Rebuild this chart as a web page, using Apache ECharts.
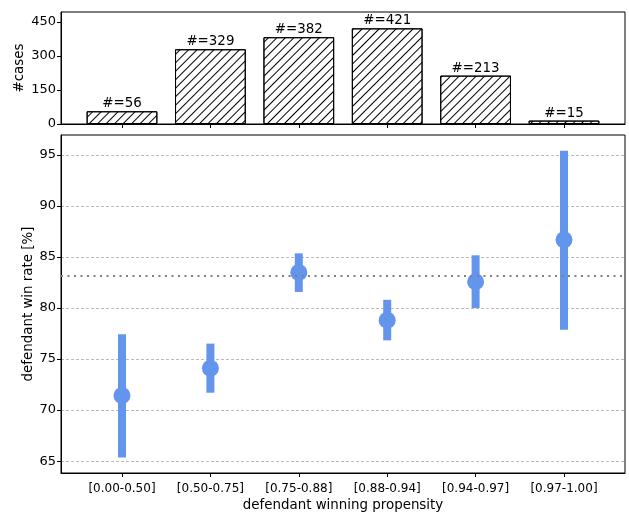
<!DOCTYPE html>
<html>
<head>
<meta charset="utf-8">
<script src="https://cdn.jsdelivr.net/npm/echarts@6/dist/echarts.min.js"></script>
<style>html,body{margin:0;padding:0;background:#fff}#c{width:629px;height:517px}</style>
</head>
<body>
<div id="c"></div>
<script>
// ---- data ----
const categories = ['[0.00-0.50]', '[0.50-0.75]', '[0.75-0.88]', '[0.88-0.94]', '[0.94-0.97]', '[0.97-1.00]'];
const caseCounts = [56, 329, 382, 421, 213, 15];
const winRate = [71.42, 74.09, 83.48, 78.80, 82.58, 86.67];
const ciLow = [65.36, 71.70, 81.57, 76.83, 80.00, 77.87];
const ciHigh = [77.42, 76.51, 85.35, 80.80, 85.16, 95.39];
const overallRate = 83.2;
const countTicks = [0, 150, 300, 450];
const rateTicks = [65, 70, 75, 80, 85, 90, 95];

const idx = categories.map((_, i) => i);
const FONT = 'DejaVu Sans';
const chart = echarts.init(document.getElementById('c'), null, {renderer: 'canvas'});

const xBase = {
  type: 'value', min: -0.69, max: 5.69,
  axisLine: {show: true, onZero: false, lineStyle: {color: '#000', width: 1}},
  axisTick: {show: true, customValues: idx, length: 4, lineStyle: {color: '#000'}},
  splitLine: {show: false}
};

const option = {
  animation: false,
  textStyle: {fontFamily: FONT},
  grid: [
    {left: 61, right: 4, top: 12, height: 112, show: true, borderColor: '#000', borderWidth: 1, backgroundColor: 'transparent'},
    {left: 61, right: 4, top: 135, height: 342, show: true, borderColor: '#000', borderWidth: 1, backgroundColor: 'transparent'}
  ],
  xAxis: [
    Object.assign({}, xBase, {gridIndex: 0, axisLabel: {show: false}}),
    Object.assign({}, xBase, {
      gridIndex: 1,
      axisLabel: {show: true, customValues: idx, formatter: v => categories[Math.round(v)], fontSize: 12, color: '#000', fontFamily: FONT, margin: 10},
      name: 'defendant winning propensity', nameLocation: 'middle', nameGap: 26, nameMoveOverlap: false,
      nameTextStyle: {fontSize: 13.4, color: '#000', fontFamily: FONT}
    })
  ],
  yAxis: [
    {
      gridIndex: 0, type: 'value', min: 0, max: 493,
      axisLine: {show: true, onZero: false, lineStyle: {color: '#000'}},
      axisTick: {show: true, customValues: countTicks, length: 4, lineStyle: {color: '#000'}},
      axisLabel: {customValues: countTicks, fontSize: 13, color: '#000', fontFamily: FONT, margin: 5},
      splitLine: {show: false},
      name: '#cases', nameLocation: 'middle', nameGap: 35, nameMoveOverlap: false,
      nameTextStyle: {fontSize: 13.4, color: '#000', fontFamily: FONT}
    },
    {
      gridIndex: 1, type: 'value', min: 63.84, max: 96.94,
      axisLine: {show: true, onZero: false, lineStyle: {color: '#000'}},
      axisTick: {show: true, customValues: rateTicks, length: 4, lineStyle: {color: '#000'}},
      axisLabel: {customValues: rateTicks, fontSize: 13, color: '#000', fontFamily: FONT, margin: 5},
      splitLine: {show: true, lineStyle: {color: '#aaaaaa', type: [3, 2], width: 0.8}},
      name: 'defendant win rate [%]', nameLocation: 'middle', nameGap: 26, nameMoveOverlap: false,
      nameTextStyle: {fontSize: 13.4, color: '#000', fontFamily: FONT}
    }
  ],
  series: [
    {
      type: 'bar', xAxisIndex: 0, yAxisIndex: 0,
      data: caseCounts.map((v, i) => [i, v]),
      barWidth: '80%',
      itemStyle: {
        color: '#fff', borderColor: '#000', borderWidth: 1,
        decal: {symbol: 'rect', color: '#000', backgroundColor: null, dashArrayX: [1, 0], dashArrayY: [1, 4.7], rotation: -Math.PI / 4, symbolSize: 1}
      },
      label: {show: true, position: 'top', distance: 1, formatter: p => '#=' + p.value[1], fontSize: 13.4, color: '#000', fontFamily: FONT}
    },
    {
      type: 'custom', xAxisIndex: 1, yAxisIndex: 1,
      data: idx.map(i => [i, ciLow[i], ciHigh[i]]),
      renderItem: function (params, api) {
        const lo = api.coord([api.value(0), api.value(1)]);
        const hi = api.coord([api.value(0), api.value(2)]);
        const w = 8;
        return {type: 'rect', shape: {x: lo[0] - w / 2, y: hi[1], width: w, height: lo[1] - hi[1]}, style: {fill: '#6495ED'}};
      },
      z: 2
    },
    {
      type: 'scatter', xAxisIndex: 1, yAxisIndex: 1,
      data: winRate.map((v, i) => [i, v]),
      symbolSize: 17,
      itemStyle: {color: '#6495ED', opacity: 1},
      z: 3,
      markLine: {
        silent: true, symbol: ['none', 'none'], label: {show: false},
        lineStyle: {color: '#808080', type: [2, 4.5], width: 2},
        data: [{yAxis: overallRate}]
      }
    }
  ]
};
chart.setOption(option);
</script>
</body>
</html>
